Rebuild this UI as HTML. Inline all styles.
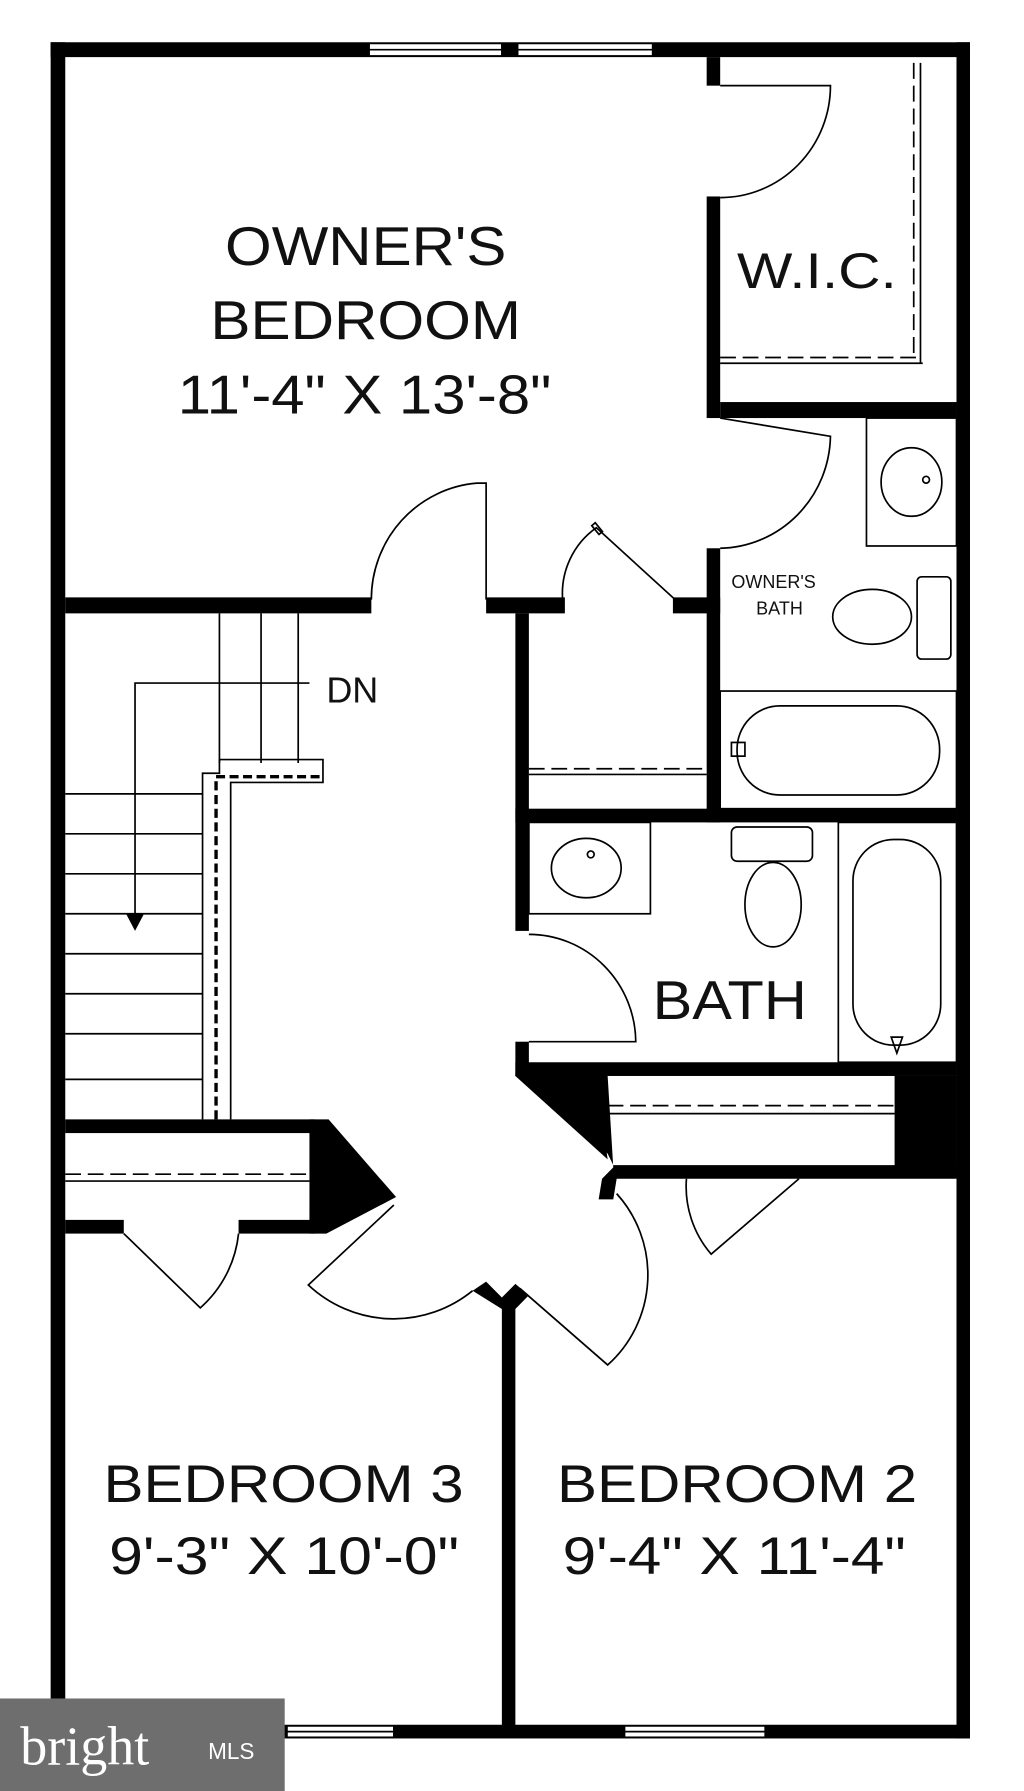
<!DOCTYPE html>
<html><head><style>html,body{margin:0;padding:0;background:#fff}svg{display:block}</style></head>
<body>
<svg width="1024" height="1791" viewBox="0 0 910 1568" preserveAspectRatio="none" xmlns="http://www.w3.org/2000/svg" font-family="Liberation Sans, sans-serif">
<rect width="910" height="1568" fill="#fff"/>
<g fill="#000">
<rect x="45" y="37" width="817" height="13"/>
<rect x="45" y="37" width="13" height="1485"/>
<rect x="850" y="37" width="12" height="1485"/>
<rect x="45" y="1510" width="817" height="12"/>
<rect x="58" y="523" width="272" height="14"/>
<rect x="432" y="523" width="70" height="14"/>
<rect x="598" y="523" width="42" height="14"/>
<rect x="628" y="50" width="12" height="25"/>
<rect x="628" y="172" width="12" height="194"/>
<rect x="640" y="352" width="210" height="14"/>
<rect x="628" y="480" width="12" height="240"/>
<rect x="458" y="537" width="12" height="278"/>
<rect x="458" y="708" width="392" height="12"/>
<rect x="458" y="912" width="12" height="30"/>
<rect x="458" y="930" width="392" height="12"/>
<polygon points="458,930 540,942 545,1022 535,1032 532,1050 545,1050 548,1032 850,1032 850,1020 545,1020 540,1010"/>
<polygon points="458,940 530,942 540,1015 458,942"/>
<rect x="795" y="942" width="55" height="88"/>
<rect x="58" y="980" width="222" height="12"/>
<rect x="58" y="1068" width="52" height="12"/>
<rect x="212" y="1068" width="68" height="12"/>
<polygon points="275,980 292,980 352,1048 290,1080 275,1080"/>
<rect x="446" y="1140" width="12" height="372"/>
<polygon points="420,1130 432,1122 446,1136 458,1124 470,1134 458,1146 446,1146"/>
</g>
<g fill="#fff" stroke="#000" stroke-width="1.5">
<rect x="328" y="38" width="118" height="11"/><rect x="460" y="38" width="120" height="11"/>
<rect x="255" y="1511" width="95" height="10"/><rect x="555" y="1511" width="125" height="10"/>
</g>
<g fill="none" stroke="#000" stroke-width="1.5">
<line x1="328" y1="43.5" x2="446" y2="43.5"/><line x1="460" y1="43.5" x2="580" y2="43.5"/>
<line x1="255" y1="1516" x2="350" y2="1516"/><line x1="555" y1="1516" x2="680" y2="1516"/>
<path d="M640 75 L738 75 A98 98 0 0 1 640 173"/>
<path d="M640 366 L738 382 A100 100 0 0 1 640 480"/>
<path d="M330 525 A102 102 0 0 1 424 423 L432 423 L432 525"/>
<path d="M500 525 A70 70 0 0 1 530 462 L600 525"/>
<rect x="528" y="458" width="4" height="10" transform="rotate(-40 530 462)"/>
<path d="M470 818 A95 95 0 0 1 565 912 L470 912"/>
<path d="M110 1080 L178 1145 A100 100 0 0 0 212 1080"/>
<path d="M350 1055 L274 1125 A112 112 0 0 0 420 1130"/>
<path d="M548 1045 A105 105 0 0 1 540 1195 L462 1128"/>
<path d="M610 1032 A90 90 0 0 0 632 1098 L710 1032"/>
<line x1="640" y1="313" x2="815" y2="313" stroke-dasharray="14,6"/>
<line x1="812" y1="55" x2="812" y2="313" stroke-dasharray="14,6"/>
<line x1="640" y1="318" x2="820" y2="318"/><line x1="818" y1="55" x2="818" y2="318"/>
<rect x="770" y="366" width="80" height="112"/>
<ellipse cx="810" cy="422" rx="27" ry="30"/>
<circle cx="823" cy="420" r="3"/>
<ellipse cx="775" cy="540" rx="35" ry="24"/>
<rect x="815" y="505" width="30" height="72" rx="4"/>
<rect x="640" y="605" width="210" height="103"/>
<rect x="655" y="618" width="180" height="78" rx="38"/>
<rect x="650" y="650" width="12" height="12"/>
<line x1="470" y1="673" x2="628" y2="673" stroke-dasharray="14,6"/>
<line x1="470" y1="678" x2="628" y2="678"/>
<rect x="470" y="720" width="108" height="80"/>
<ellipse cx="521" cy="760" rx="31" ry="26"/><circle cx="525" cy="748" r="3"/>
<rect x="650" y="724" width="72" height="30" rx="5"/>
<ellipse cx="687" cy="792" rx="25" ry="37"/>
<rect x="745" y="720" width="105" height="210"/>
<rect x="758" y="735" width="78" height="180" rx="36"/>
<path d="M792 908 L802 908 L797 922 Z"/>
<line x1="540" y1="968" x2="795" y2="968" stroke-dasharray="14,6"/>
<line x1="540" y1="975" x2="795" y2="975"/>
<line x1="58" y1="1028" x2="275" y2="1028" stroke-dasharray="14,6"/>
<line x1="58" y1="1034" x2="275" y2="1034"/>
<line x1="195" y1="537" x2="195" y2="668"/><line x1="232" y1="537" x2="232" y2="668"/><line x1="265" y1="537" x2="265" y2="668"/>
<path d="M180 980 L180 677 L195 677 L195 665 L287 665 L287 685 L205 685 L205 980"/>
<path d="M192 980 L192 680 L285 680" stroke-dasharray="8,4" stroke-width="3"/>
<line x1="58" y1="695" x2="180" y2="695"/><line x1="58" y1="730" x2="180" y2="730"/>
<line x1="58" y1="765" x2="180" y2="765"/><line x1="58" y1="800" x2="180" y2="800"/>
<line x1="58" y1="835" x2="180" y2="835"/><line x1="58" y1="870" x2="180" y2="870"/>
<line x1="58" y1="905" x2="180" y2="905"/><line x1="58" y1="945" x2="180" y2="945"/>
<path d="M275 598 L120 598 L120 808"/>
</g>
<path d="M112 800 L128 800 L120 815 Z" fill="#000"/>
<g fill="#111" lengthAdjust="spacingAndGlyphs">
<text x="200" y="232" font-size="48" textLength="250" lengthAdjust="spacingAndGlyphs">OWNER'S</text>
<text x="187" y="297" font-size="48" textLength="276" lengthAdjust="spacingAndGlyphs">BEDROOM</text>
<text x="158" y="362" font-size="48" textLength="332" lengthAdjust="spacingAndGlyphs">11'-4" X 13'-8"</text>
<text x="655" y="252" font-size="44" textLength="142" lengthAdjust="spacingAndGlyphs">W.I.C.</text>
<text x="650" y="515" font-size="16">OWNER'S</text>
<text x="672" y="538" font-size="16">BATH</text>
<text x="290" y="615" font-size="32">DN</text>
<text x="580" y="892" font-size="48" textLength="137" lengthAdjust="spacingAndGlyphs">BATH</text>
<text x="92" y="1315" font-size="46" textLength="320" lengthAdjust="spacingAndGlyphs">BEDROOM 3</text>
<text x="97" y="1378" font-size="46" textLength="311" lengthAdjust="spacingAndGlyphs">9'-3" X 10'-0"</text>
<text x="495" y="1315" font-size="46" textLength="320" lengthAdjust="spacingAndGlyphs">BEDROOM 2</text>
<text x="500" y="1378" font-size="46" textLength="305" lengthAdjust="spacingAndGlyphs">9'-4" X 11'-4"</text>
</g>
<rect x="0" y="1487" width="253" height="81" fill="#6e6e6e"/>
<text x="18" y="1545" font-family="Liberation Serif, serif" font-size="48" fill="#fff">bright</text>
<text x="185" y="1540" font-size="20" fill="#fff">MLS</text>
</svg>
</body></html>
